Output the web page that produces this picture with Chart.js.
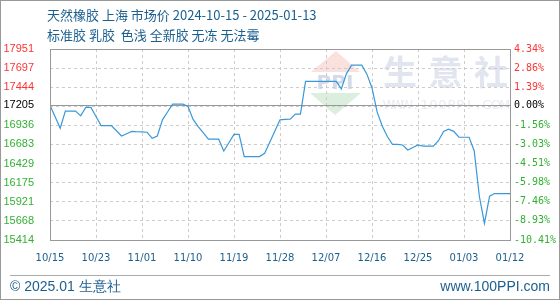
<!DOCTYPE html>
<html>
<head>
<meta charset="utf-8">
<script src="https://cdn.jsdelivr.net/npm/chart.js@4/dist/chart.umd.min.js"></script>
<style>
    html, body { margin: 0; padding: 0; background: #fff; }
    canvas { display: block; }
</style>
</head>
<body>
<canvas id="canvas" width="560" height="300"></canvas>
<script>
const titleLine1 = '天然橡胶 上海 市场价 2024-10-15 - 2025-01-13';
const titleLine2 = '标准胶 乳胶  色浅 全新胶 无冻 无法霉';
const footerLeft = '© 2025.01 生意社';
const footerRight = 'www.100PPI.com';

const xTickLabels = ['10/15', '10/23', '11/01', '11/10', '11/19', '11/28', '12/07', '12/16', '12/25', '01/03', '01/12'];
const priceTicks = [15414, 15668, 15921, 16175, 16429, 16683, 16936, 17205, 17444, 17697, 17951];
const pctTicks = ['-10.41%', '-8.93%', '-7.46%', '-5.98%', '-4.51%', '-3.03%', '-1.56%', '0.00%', '1.39%', '2.86%', '4.34%'];
const basePrice = 17205;

// daily price, 2024-10-15 .. 2025-01-13
const prices = [
    17205, 17050, 16899, 17127, 17127, 17127, 17063, 17176, 17176, 17055,
    16934, 16934, 16934, 16865, 16796, 16826, 16856, 16852, 16849, 16845,
    16765, 16796, 17010, 17114, 17219, 17219, 17219, 17187, 17016, 16920,
    16837, 16753, 16753, 16753, 16596, 16706, 16816, 16816, 16522, 16522,
    16522, 16522, 16565, 16713, 16861, 17010, 17015, 17019, 17086, 17086,
    17521, 17521, 17521, 17521, 17521, 17521, 17521, 17421, 17624, 17737,
    17737, 17737, 17617, 17433, 17116, 16929, 16788, 16685, 16683, 16676,
    16609, 16642, 16676, 16662, 16662, 16662, 16733, 16855, 16885, 16857,
    16779, 16779, 16779, 16596, 15995, 15634, 15995, 16031, 16031, 16031,
    16031
];

const RED = '#ff3333';
const GREEN = '#33b033';
const BLUE_TEXT = '#1b5f8f';

const yMin = priceTicks[0];
const yMax = priceTicks[priceTicks.length - 1];
// gridlines are evenly spaced; the base price replaces one of the labels
const gridValues = [];
for(let k = 0; k <= 10; k++) gridValues.push(yMin + k * (yMax - yMin) / 10);

function tickColor(c) {
    const v = c.tick.value;
    if(Math.abs(v - basePrice) < 0.5) return '#000';
    return v > basePrice ? RED : GREEN;
}

function yTicks(scale) {
    const vals = gridValues.filter(v => !priceTicks.some(p => Math.abs(p - v) < 1));
    scale.ticks = priceTicks.concat(vals).map(v => ({ value: v }));
}

const decor = {
    id: 'decor',
    beforeDraw(chart) {
        const ctx = chart.ctx;
        ctx.save();
        // watermark
        ctx.fillStyle = '#e1e5ef';
        ctx.font = 'bold 34px "Noto Sans CJK SC"';
        ctx.textAlign = 'center';
        ctx.textBaseline = 'middle';
        ['生', '意', '社'].forEach((ch, i) => ctx.fillText(ch, 400 + i * 45.5, 72));
        ctx.fillStyle = '#e9ebf1';
        ctx.font = '13px "DejaVu Sans"';
        const wm = 'WWW.100PPI.COM';
        for(let i = 0; i < wm.length; i++) ctx.fillText(wm[i], 389 + i * 8.9, 106);

        // logo
        ctx.fillStyle = '#fbe1de';
        ctx.beginPath(); ctx.moveTo(336, 51); ctx.lineTo(360, 72); ctx.lineTo(311, 72); ctx.closePath(); ctx.fill();
        ctx.fillStyle = '#dcefdf';
        ctx.beginPath(); ctx.moveTo(310, 93); ctx.lineTo(361, 93); ctx.lineTo(335, 115); ctx.closePath(); ctx.fill();
        ctx.fillStyle = '#d3daea';
        ctx.font = 'bold 20px "DejaVu Sans"';
        ctx.fillText('PPI', 335, 84);
        ctx.restore();
    },
    afterDraw(chart) {
        const ctx = chart.ctx;
        const a = chart.chartArea;
        ctx.save();
        ctx.strokeStyle = '#999';
        ctx.lineWidth = 1;
        ctx.strokeRect(Math.round(a.left) + 0.5, Math.round(a.top) + 0.5, Math.round(a.right - a.left), Math.round(a.bottom - a.top));

        ctx.fillStyle = BLUE_TEXT;
        ctx.textBaseline = 'middle';
        ctx.textAlign = 'left';
        ctx.font = '13px "Noto Sans CJK SC"';
        ctx.fillText(titleLine1, 47, 15);
        ctx.fillText(titleLine2, 47, 35);

        ctx.strokeStyle = '#aaa';
        ctx.beginPath(); ctx.moveTo(10, 275.5); ctx.lineTo(550, 275.5); ctx.stroke();

        ctx.font = '14px "Liberation Sans"';
        ctx.fillText(footerLeft, 10, 287);
        ctx.textAlign = 'right';
        ctx.fillText(footerRight, 550, 287);

        ctx.strokeStyle = '#999';
        ctx.strokeRect(0.5, 0.5, 559, 299);
        ctx.restore();
    }
};

new Chart(document.getElementById('canvas').getContext('2d'), {
    type: 'line',
    data: {
        datasets: [{
            data: prices.map((v, i) => ({ x: i, y: v })),
            borderColor: '#3a98d8',
            borderWidth: 1.2,
            pointRadius: 0,
            tension: 0,
            fill: false
        }]
    },
    options: {
        responsive: false,
        animation: false,
        devicePixelRatio: 1,
        layout: { padding: { top: 49, left: 0, right: 0, bottom: 0 } },
        plugins: { legend: { display: false }, tooltip: { enabled: false } },
        scales: {
            x: {
                type: 'linear',
                min: 0,
                max: prices.length - 1,
                afterBuildTicks: s => { s.ticks = xTickLabels.map((_, k) => ({ value: k * 9 })); },
                afterFit: s => { s.height = 60; },
                ticks: {
                    callback: v => xTickLabels[Math.round(v / 9)],
                    color: BLUE_TEXT,
                    font: { family: 'DejaVu Sans', size: 10 },
                    padding: 12,
                    maxRotation: 0,
                    autoSkip: false
                },
                grid: { color: '#cccccc', drawTicks: false },
                border: { display: false, dash: [3, 3] }
            },
            y: {
                position: 'left',
                min: yMin,
                max: yMax,
                afterBuildTicks: yTicks,
                afterFit: s => { s.width = 50; },
                ticks: {
                    callback: v => priceTicks.some(p => p === v) ? String(v) : '',
                    color: tickColor,
                    font: { family: 'Liberation Sans', size: 11 },
                    padding: 16,
                    autoSkip: false
                },
                grid: {
                    drawTicks: false,
                    color: c => c.tick.value === basePrice ? '#999999' : '#cccccc'
                },
                border: {
                    display: false,
                    dash: c => c.tick && c.tick.value === basePrice ? [] : [3, 3]
                }
            },
            y2: {
                position: 'right',
                min: yMin,
                max: yMax,
                afterBuildTicks: s => { s.ticks = priceTicks.map(v => ({ value: v })); },
                afterFit: s => { s.width = 50; },
                ticks: {
                    callback: v => pctTicks[priceTicks.indexOf(v)],
                    color: tickColor,
                    font: { family: 'DejaVu Sans Mono', size: 10 },
                    padding: 4,
                    autoSkip: false
                },
                grid: { display: false, drawTicks: false },
                border: { display: false }
            }
        }
    },
    plugins: [decor]
});
</script>
</body>
</html>
